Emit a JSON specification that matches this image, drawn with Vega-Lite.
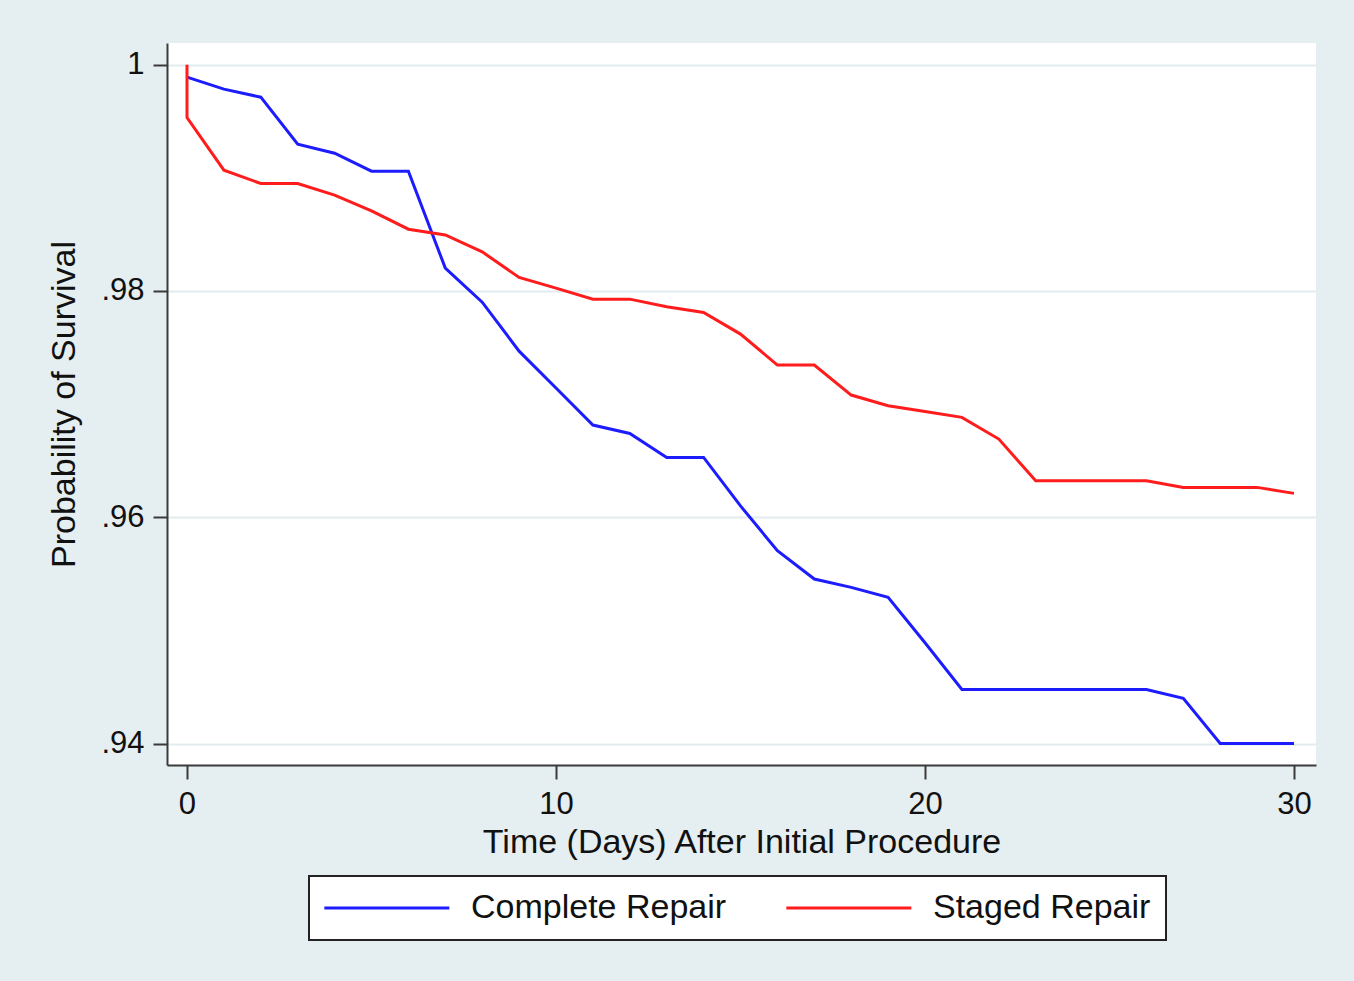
{
  "$schema": "https://vega.github.io/schema/vega-lite/v6.json",
  "width": 1149,
  "height": 722,
  "autosize": {"type": "none"},
  "padding": {"left": 167, "top": 43, "right": 38, "bottom": 216},
  "background": "#e5eef0",
  "config": {
    "font": "Liberation Sans",
    "view": {"fill": "white", "stroke": null},
    "axis": {
      "domainColor": "#3a3a3a",
      "domainWidth": 2,
      "tickColor": "#3a3a3a",
      "tickWidth": 2,
      "tickSize": 14,
      "labelFont": "Liberation Sans",
      "labelFontSize": 31,
      "labelColor": "#111111",
      "titleFont": "Liberation Sans",
      "titleFontSize": 34,
      "titleFontWeight": "normal",
      "titleColor": "#111111",
      "gridColor": "#e2ebee",
      "gridWidth": 2
    }
  },
  "data": {
    "values": [
      {"i": 0, "day": 0, "surv": 0.99890, "group": "Complete Repair"},
      {"i": 1, "day": 1, "surv": 0.99784, "group": "Complete Repair"},
      {"i": 2, "day": 2, "surv": 0.99713, "group": "Complete Repair"},
      {"i": 3, "day": 3, "surv": 0.99298, "group": "Complete Repair"},
      {"i": 4, "day": 4, "surv": 0.99218, "group": "Complete Repair"},
      {"i": 5, "day": 5, "surv": 0.99059, "group": "Complete Repair"},
      {"i": 6, "day": 6, "surv": 0.99059, "group": "Complete Repair"},
      {"i": 7, "day": 7, "surv": 0.98202, "group": "Complete Repair"},
      {"i": 8, "day": 8, "surv": 0.97901, "group": "Complete Repair"},
      {"i": 9, "day": 9, "surv": 0.97468, "group": "Complete Repair"},
      {"i": 10, "day": 10, "surv": 0.97142, "group": "Complete Repair"},
      {"i": 11, "day": 11, "surv": 0.96815, "group": "Complete Repair"},
      {"i": 12, "day": 12, "surv": 0.96741, "group": "Complete Repair"},
      {"i": 13, "day": 13, "surv": 0.96529, "group": "Complete Repair"},
      {"i": 14, "day": 14, "surv": 0.96529, "group": "Complete Repair"},
      {"i": 15, "day": 15, "surv": 0.96100, "group": "Complete Repair"},
      {"i": 16, "day": 16, "surv": 0.95704, "group": "Complete Repair"},
      {"i": 17, "day": 17, "surv": 0.95454, "group": "Complete Repair"},
      {"i": 18, "day": 18, "surv": 0.95380, "group": "Complete Repair"},
      {"i": 19, "day": 19, "surv": 0.95292, "group": "Complete Repair"},
      {"i": 20, "day": 20, "surv": 0.94890, "group": "Complete Repair"},
      {"i": 21, "day": 21, "surv": 0.94478, "group": "Complete Repair"},
      {"i": 22, "day": 22, "surv": 0.94478, "group": "Complete Repair"},
      {"i": 23, "day": 23, "surv": 0.94478, "group": "Complete Repair"},
      {"i": 24, "day": 24, "surv": 0.94478, "group": "Complete Repair"},
      {"i": 25, "day": 25, "surv": 0.94478, "group": "Complete Repair"},
      {"i": 26, "day": 26, "surv": 0.94478, "group": "Complete Repair"},
      {"i": 27, "day": 27, "surv": 0.94400, "group": "Complete Repair"},
      {"i": 28, "day": 28, "surv": 0.94000, "group": "Complete Repair"},
      {"i": 29, "day": 29, "surv": 0.94000, "group": "Complete Repair"},
      {"i": 30, "day": 30, "surv": 0.94000, "group": "Complete Repair"},
      {"i": 0, "day": 0, "surv": 1.00000, "group": "Staged Repair"},
      {"i": 1, "day": 0, "surv": 0.99533, "group": "Staged Repair"},
      {"i": 2, "day": 1, "surv": 0.99068, "group": "Staged Repair"},
      {"i": 3, "day": 2, "surv": 0.98950, "group": "Staged Repair"},
      {"i": 4, "day": 3, "surv": 0.98950, "group": "Staged Repair"},
      {"i": 5, "day": 4, "surv": 0.98847, "group": "Staged Repair"},
      {"i": 6, "day": 5, "surv": 0.98708, "group": "Staged Repair"},
      {"i": 7, "day": 6, "surv": 0.98546, "group": "Staged Repair"},
      {"i": 8, "day": 7, "surv": 0.98495, "group": "Staged Repair"},
      {"i": 9, "day": 8, "surv": 0.98346, "group": "Staged Repair"},
      {"i": 10, "day": 9, "surv": 0.98120, "group": "Staged Repair"},
      {"i": 11, "day": 10, "surv": 0.98025, "group": "Staged Repair"},
      {"i": 12, "day": 11, "surv": 0.97928, "group": "Staged Repair"},
      {"i": 13, "day": 12, "surv": 0.97928, "group": "Staged Repair"},
      {"i": 14, "day": 13, "surv": 0.97860, "group": "Staged Repair"},
      {"i": 15, "day": 14, "surv": 0.97810, "group": "Staged Repair"},
      {"i": 16, "day": 15, "surv": 0.97619, "group": "Staged Repair"},
      {"i": 17, "day": 16, "surv": 0.97345, "group": "Staged Repair"},
      {"i": 18, "day": 17, "surv": 0.97345, "group": "Staged Repair"},
      {"i": 19, "day": 18, "surv": 0.97080, "group": "Staged Repair"},
      {"i": 20, "day": 19, "surv": 0.96985, "group": "Staged Repair"},
      {"i": 21, "day": 20, "surv": 0.96934, "group": "Staged Repair"},
      {"i": 22, "day": 21, "surv": 0.96883, "group": "Staged Repair"},
      {"i": 23, "day": 22, "surv": 0.96691, "group": "Staged Repair"},
      {"i": 24, "day": 23, "surv": 0.96322, "group": "Staged Repair"},
      {"i": 25, "day": 24, "surv": 0.96322, "group": "Staged Repair"},
      {"i": 26, "day": 25, "surv": 0.96322, "group": "Staged Repair"},
      {"i": 27, "day": 26, "surv": 0.96322, "group": "Staged Repair"},
      {"i": 28, "day": 27, "surv": 0.96264, "group": "Staged Repair"},
      {"i": 29, "day": 28, "surv": 0.96264, "group": "Staged Repair"},
      {"i": 30, "day": 29, "surv": 0.96264, "group": "Staged Repair"},
      {"i": 31, "day": 30, "surv": 0.96211, "group": "Staged Repair"}
    ]
  },
  "mark": {"type": "line", "strokeWidth": 3, "clip": true},
  "encoding": {
    "x": {
      "field": "day",
      "type": "quantitative",
      "scale": {"domain": [-0.542, 30.596], "nice": false, "zero": false},
      "axis": {
        "values": [0, 10, 20, 30],
        "grid": false,
        "title": "Time (Days) After Initial Procedure",
        "labelPadding": 10,
        "titlePadding": 6,
        "format": "d"
      }
    },
    "y": {
      "field": "surv",
      "type": "quantitative",
      "scale": {"domain": [0.9381, 1.00192], "nice": false, "zero": false},
      "axis": {
        "values": [0.94, 0.96, 0.98, 1],
        "grid": true,
        "title": "Probability of Survival",
        "labelAngle": 0,
        "labelPadding": 9,
        "titlePadding": 19,
        "labelExpr": "datum.value >= 1 ? '1' : substring(format(datum.value, '.2f'), 1)"
      }
    },
    "color": {
      "field": "group",
      "type": "nominal",
      "scale": {"domain": ["Complete Repair", "Staged Repair"], "range": ["#1c1cff", "#ff1c1c"]},
      "legend": {
        "title": null,
        "orient": "none",
        "legendX": 142,
        "legendY": 833,
        "direction": "horizontal",
        "symbolType": "M-1.6,0H10.4",
        "symbolSize": 434,
        "symbolStrokeWidth": 3,
        "labelFontSize": 34,
        "labelFont": "Liberation Sans",
        "labelColor": "#111111",
        "labelLimit": 500,
        "labelOffset": 113,
        "columnPadding": 53,
        "padding": 15,
        "fillColor": "white",
        "strokeColor": "#222222",
        "encode": {"legend": {"update": {"strokeWidth": {"value": 2}}}}
      }
    },
    "order": {"field": "i", "type": "quantitative"}
  }
}
